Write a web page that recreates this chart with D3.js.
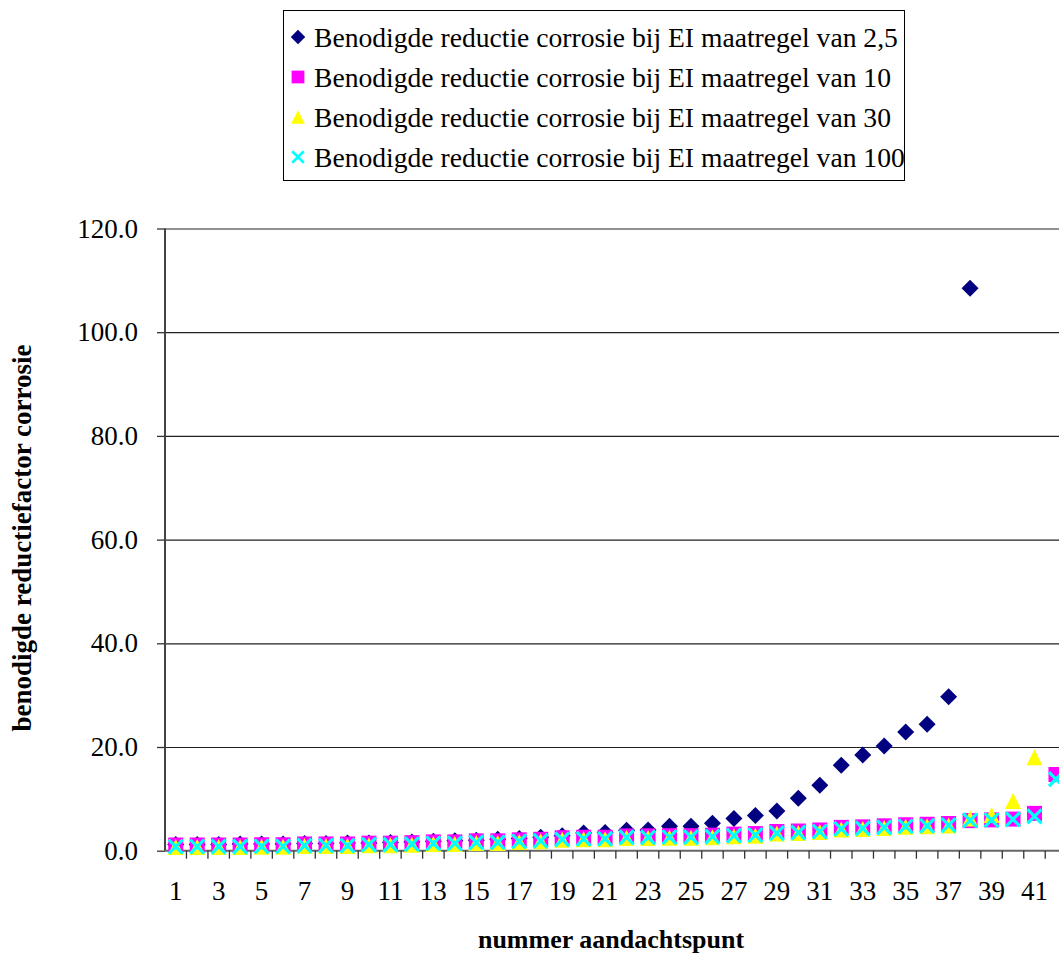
<!DOCTYPE html>
<html>
<head>
<meta charset="utf-8">
<script src="https://cdn.jsdelivr.net/npm/d3@7"></script>
<style>
  html, body { margin: 0; padding: 0; background: #fff; }
  svg { display: block; }
  text { font-family: "Liberation Serif", "Times New Roman", serif; fill: #000; }
</style>
</head>
<body>
<script>
const categories = [1,2,3,4,5,6,7,8,9,10,11,12,13,14,15,16,17,18,19,20,21,22,23,24,25,26,27,28,29,30,31,32,33,34,35,36,37,38,39,40,41,42];
const xTickLabels = [1,3,5,7,9,11,13,15,17,19,21,23,25,27,29,31,33,35,37,39,41];
const yTickValues = [0,20,40,60,80,100,120];

const seriesNames = [
  "Benodigde reductie corrosie bij EI maatregel van 2,5",
  "Benodigde reductie corrosie bij EI maatregel van 10",
  "Benodigde reductie corrosie bij EI maatregel van 30",
  "Benodigde reductie corrosie bij EI maatregel van 100"
];
const values25 = [1.2,1.2,1.2,1.3,1.3,1.3,1.4,1.4,1.5,1.5,1.6,1.7,1.8,1.9,2.0,2.2,2.35,2.6,2.9,3.4,3.5,3.95,4.0,4.7,4.7,5.3,6.2,6.8,7.65,10.1,12.6,16.5,18.45,20.2,22.9,24.4,29.7,108.5,null,null,null,null];
const values10 = [1.1,1.1,1.1,1.1,1.15,1.15,1.3,1.3,1.3,1.45,1.45,1.55,1.7,1.7,1.9,1.9,2.1,2.2,2.5,2.6,2.6,2.85,2.87,2.9,2.9,3.0,3.2,3.3,3.7,3.8,4.0,4.5,4.6,4.8,5.0,5.1,5.25,5.8,5.95,6.1,7.2,14.7];
const values30 = [0.7,0.7,0.7,0.7,0.75,0.75,0.9,0.9,0.9,1.05,1.05,1.15,1.3,1.3,1.5,1.5,1.7,1.8,2.1,2.2,2.2,2.45,2.47,2.5,2.5,2.6,2.8,2.9,3.3,3.4,3.6,4.1,4.2,4.4,4.6,4.7,4.85,6.2,6.9,9.6,18.0,null];
const values100 = [0.8,0.8,0.8,0.8,0.85,0.85,1.0,1.0,1.0,1.15,1.15,1.25,1.4,1.4,1.6,1.6,1.8,1.9,2.2,2.3,2.3,2.55,2.57,2.6,2.6,2.7,2.9,3.0,3.4,3.5,3.7,4.2,4.3,4.5,4.7,4.8,4.95,5.85,5.9,6.05,6.6,13.8];

const colors = ["#000080", "#FF00FF", "#FFFF00", "#00FFFF"];
const markers = ["diamond", "square", "triangle", "x"];

const W = 1059, H = 954;
const plot = { left: 165, top: 228.5, right: 1066.7, bottom: 850.7 };

const svg = d3.select("body").append("svg").attr("width", W).attr("height", H);
svg.append("rect").attr("width", W).attr("height", H).attr("fill", "#fff");

const x = d3.scaleBand().domain(categories).range([plot.left, plot.right]).padding(0);
const y = d3.scaleLinear().domain([0, 120]).range([plot.bottom, plot.top]);

// gridlines
svg.append("g")
  .attr("transform", `translate(${plot.left},0)`)
  .call(d3.axisLeft(y).tickValues(yTickValues.slice(1)).tickSize(-(plot.right - plot.left)).tickFormat(""))
  .call(g => g.select(".domain").remove())
  .call(g => g.selectAll("line").attr("stroke", "#222").attr("stroke-width", 1.2));

// y axis
const yAxis = svg.append("g")
  .attr("transform", `translate(${plot.left},0)`)
  .call(d3.axisLeft(y).tickValues(yTickValues).tickSize(8).tickPadding(19).tickFormat(d3.format(".1f")));
yAxis.select(".domain").attr("stroke", "#444").attr("stroke-width", 2).attr("d", `M0,${plot.top}V${plot.bottom}`);
yAxis.selectAll("line").attr("stroke", "#333").attr("stroke-width", 1.3);
yAxis.selectAll("text").attr("font-size", 27).attr("font-family", "Liberation Serif");

// x axis
const xAxis = svg.append("g")
  .attr("transform", `translate(0,${plot.bottom})`)
  .call(d3.axisBottom(x).tickSize(0).tickFormat(d => xTickLabels.includes(d) ? d : ""));
xAxis.select(".domain").attr("stroke", "#666").attr("stroke-width", 2).attr("d", `M${plot.left},0H${plot.right}`);
xAxis.selectAll("text").attr("font-size", 27).attr("font-family", "Liberation Serif").attr("y", 40).attr("dy", "0.35em");
// tick marks between categories
const boundaries = categories.map(c => x(c) + x.bandwidth());
svg.append("g").selectAll("line").data(boundaries).join("line")
  .attr("x1", d => d).attr("x2", d => d)
  .attr("y1", plot.bottom).attr("y2", plot.bottom + 8)
  .attr("stroke", "#333").attr("stroke-width", 1.3);

// markers
function markerPath(type, s) {
  const h = s / 2;
  if (type === "diamond") return `M0,${-h}L${h},0L0,${h}L${-h},0Z`;
  if (type === "square") return `M${-h},${-h}H${h}V${h}H${-h}Z`;
  if (type === "triangle") return `M0,${-h}L${h},${h}L${-h},${h}Z`;
  return `M${-h+1},${-h+1}L${h-1},${h-1}M${h-1},${-h+1}L${-h+1},${h-1}`;
}
const markerSize = { diamond: 17, square: 15, triangle: 16, x: 16 };
function drawMarker(sel, type, color, scale) {
  const s = markerSize[type] * scale;
  if (type === "x") {
    sel.append("path").attr("d", markerPath(type, s)).attr("fill", "none")
      .attr("stroke", color).attr("stroke-width", 3.2 * scale);
  } else {
    sel.append("path").attr("d", markerPath(type, s)).attr("fill", color);
  }
}

const allSeries = [values25, values10, values30, values100];

allSeries.forEach((vals, si) => {
  const g = svg.append("g");
  const pts = categories.map((c, i) => ({ c, v: vals[i] })).filter(d => d.v !== null);
  g.selectAll("g.pt").data(pts).join("g").attr("class", "pt")
    .attr("transform", d => `translate(${x(d.c) + x.bandwidth() / 2},${y(d.v)})`)
    .each(function () { drawMarker(d3.select(this), markers[si], colors[si], 1); });
});

// legend
const legend = svg.append("g");
legend.append("rect").attr("x", 283.5).attr("y", 10.5).attr("width", 621).attr("height", 170)
  .attr("fill", "#fff").attr("stroke", "#000").attr("stroke-width", 1);
const rowY = [37, 77, 117, 157];
seriesNames.forEach((name, i) => {
  const row = legend.append("g").attr("transform", `translate(298,${rowY[i]})`);
  drawMarker(row, markers[i], colors[i], 0.85);
  row.append("text").attr("x", 16).attr("dy", "0.35em").attr("font-size", 27.6).text(name);
});

// axis titles
svg.append("text").attr("x", 611).attr("y", 948).attr("text-anchor", "middle")
  .attr("font-size", 26).attr("font-weight", "bold").text("nummer aandachtspunt");
svg.append("text").attr("transform", "translate(31,538) rotate(-90)").attr("text-anchor", "middle")
  .attr("font-size", 27).attr("font-weight", "bold").text("benodigde reductiefactor corrosie");
</script>
</body>
</html>
